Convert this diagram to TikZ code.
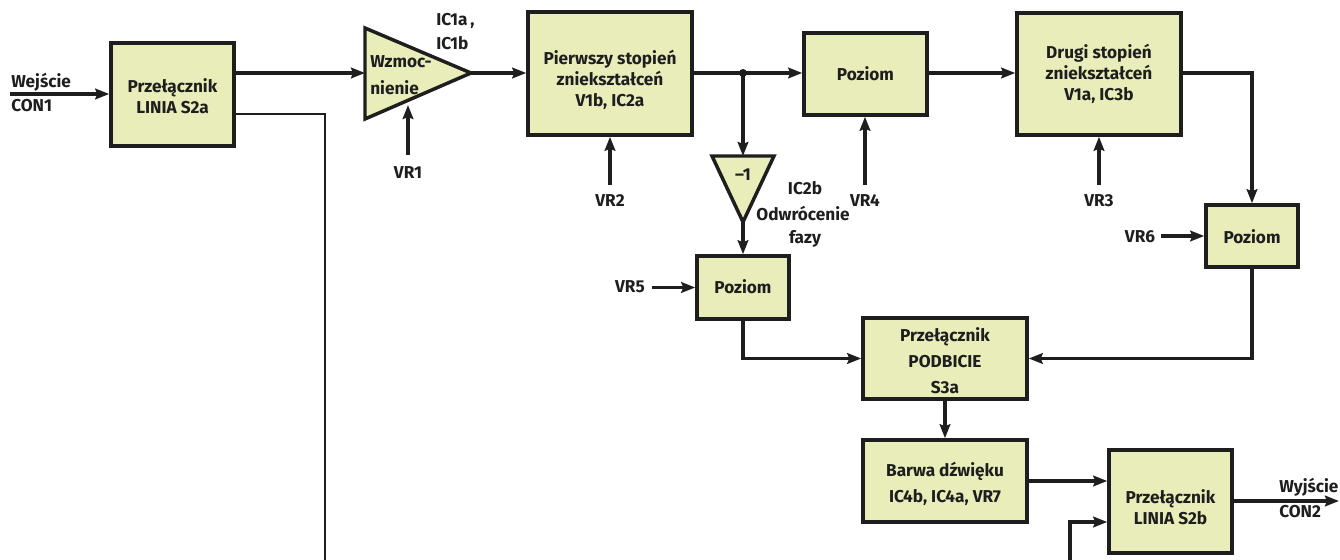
\documentclass[tikz,border=0pt]{standalone}
\usepackage{fontspec}
\setmainfont{Fira Sans}
\usetikzlibrary{arrows.meta}
\definecolor{boxfill}{RGB}{232,237,186}
\definecolor{ink}{RGB}{30,30,30}
\newcommand\dfont{\fontsize{12.9}{15.75}\selectfont\bfseries}
\newcommand\dfontw{\fontsize{12.9}{19.5}\selectfont\bfseries}
\tikzset{
  blk/.style={draw=ink, line width=2.6pt, fill=boxfill, inner sep=0pt},
  txt/.style={text=ink, font=\dfont, align=center, inner sep=0pt},
  txtw/.style={text=ink, font=\dfontw, align=center, inner sep=0pt},
  conn/.style={draw=ink, line width=2.3pt},
  arr/.style={conn, -{Stealth[length=10.5pt,width=8pt,inset=1.5pt]}},
}
\begin{document}
\begin{tikzpicture}[x=0.75pt,y=-0.75pt]
\useasboundingbox (0,0) rectangle (1340,560);
% helper coordinates for levels
\coordinate (yA) at (0,73);
\coordinate (yB) at (0,114);
\coordinate (yC) at (0,522);
\coordinate (yD) at (0,501);

% boxes
\node[blk, minimum width=92.25pt, minimum height=77.25pt] (s2a) at (172.5,94.5) {};
\node[txt] at (172.5,96) {Przełącznik\\LINIA S2a};

\node[blk, minimum width=123pt, minimum height=92.25pt] (b1) at (610,73.5) {};
\node[txt] at (610,80) {Pierwszy stopień\\zniekształceń\\V1b, IC2a};

\node[blk, minimum width=92.25pt, minimum height=61.5pt] (p1) at (865.5,74) {};
\node[txt] at (865.5,74) {Poziom};

\node[blk, minimum width=123pt, minimum height=91.5pt] (b2) at (1099,74) {};
\node[txt] at (1099,73.5) {Drugi stopień\\zniekształceń\\V1a, IC3b};

\node[blk, minimum width=69pt, minimum height=46.5pt] (p3) at (1252,236) {};
\node[txt] at (1252,237) {Poziom};

\node[blk, minimum width=69pt, minimum height=47.25pt] (p2) at (743,287.5) {};
\node[txt] at (743,287) {Poziom};

\node[blk, minimum width=123pt, minimum height=60.75pt] (pod) at (945,358.5) {};
\node[txtw] at (945,361) {Przełącznik\\PODBICIE\\S3a};

\node[blk, minimum width=123pt, minimum height=61.5pt] (barwa) at (945,481) {};
\node[txtw] at (945,484) {Barwa dźwięku\\IC4b, IC4a, VR7};

\node[blk, minimum width=92.25pt, minimum height=77.25pt] (s2b) at (1170.5,501.5) {};
\node[txt] at (1170.5,507) {Przełącznik\\LINIA S2b};

% amplifier triangle
\coordinate (ampin) at (365,73);
\coordinate (ampout) at (471,73);
\draw[blk, line join=miter] (365,28) -- (ampout) -- (365,119) -- cycle;
\node[txt, anchor=west] at (370,62) {Wzmoc-};
\node[txt, anchor=west] at (370,88) {nienie};
\node[txt, anchor=west] at (436,21) {IC1a\,,};
\node[txt, anchor=west] at (436,43) {IC1b};

% inverter triangle
\coordinate (invtop) at (743,156);
\coordinate (invout) at (743,222);
\draw[blk, line join=miter] (712,156) -- (774,156) -- (invout) -- cycle;
\node[txt] at (743,175) {–1};
\node[txt] at (805,188) {IC2b};
\node[txt] at (803,213) {Odwrócenie};
\node[txt] at (805,239) {fazy};

% input / output labels
\coordinate (in) at (10,94);
\node[txt, anchor=west] at (11,82) {Wejście};
\node[txt, anchor=west] at (11,106) {CON1};
\coordinate (out) at (1339,501);
\node[txt, anchor=west] at (1279,487) {Wyjście};
\node[txt, anchor=west] at (1279,512) {CON2};

% potentiometer labels
\node[txt] (vr1) at (408,173) {VR1};
\node[txt] (vr2) at (610,201) {VR2};
\node[txt] (vr4) at (865,201) {VR4};
\node[txt] (vr3) at (1099,201) {VR3};
\node[txt] (vr6) at (1140,237) {VR6};
\node[txt] (vr5) at (630,287) {VR5};
\coordinate (vr1s) at (408,155);
\coordinate (vr1e) at (408,105);
\coordinate (vr2s) at (610,185);
\coordinate (vr4s) at (865,185);
\coordinate (vr3s) at (1099,185);
\coordinate (vr6s) at (1161,236);
\coordinate (vr5s) at (652,287.5);

% connectors
\draw[arr] (in) -- (in -| s2a.west);
\draw[arr] (s2a.east |- yA) -- (ampin);
\coordinate (s2abot) at (325,561);
\draw[conn, line width=2pt] (s2a.east |- yB) -| (s2abot);
\draw[arr] (vr1s) -- (vr1e);
\draw[arr] (ampout) -- (ampout -| b1.west);
\draw[arr] (vr2s) -- (vr2s |- b1.south);
\coordinate (j) at (743,73);
\draw[arr] (b1.east |- j) -- (j -| p1.west);
\fill[ink] (j) circle (3pt);
\draw[arr] (j) -- (invtop);
\draw[arr] (invout) -- (p2.north);
\draw[arr] (vr4s) -- (vr4s |- p1.south);
\draw[arr] (p1.east |- j) -- (b2.west |- j);
\draw[arr] (vr3s) -- (vr3s |- b2.south);
\draw[arr] (b2.east |- j) -| (p3.north);
\draw[arr] (vr6s) -- (p3.west);
\draw[arr] (vr5s) -- (p2.west);
\draw[arr] (p3.south) |- (pod.east);
\draw[arr] (p2.south) |- (pod.west);
\draw[arr] (pod.south) -- (barwa.north);
\draw[arr] (barwa.east) -- (barwa.east -| s2b.west);
\coordinate (s2bbot) at (1070,561);
\draw[arr] (s2bbot) |- (s2b.west |- yC);
\draw[arr] (s2b.east |- yD) -- (out);
\end{tikzpicture}
\end{document}
